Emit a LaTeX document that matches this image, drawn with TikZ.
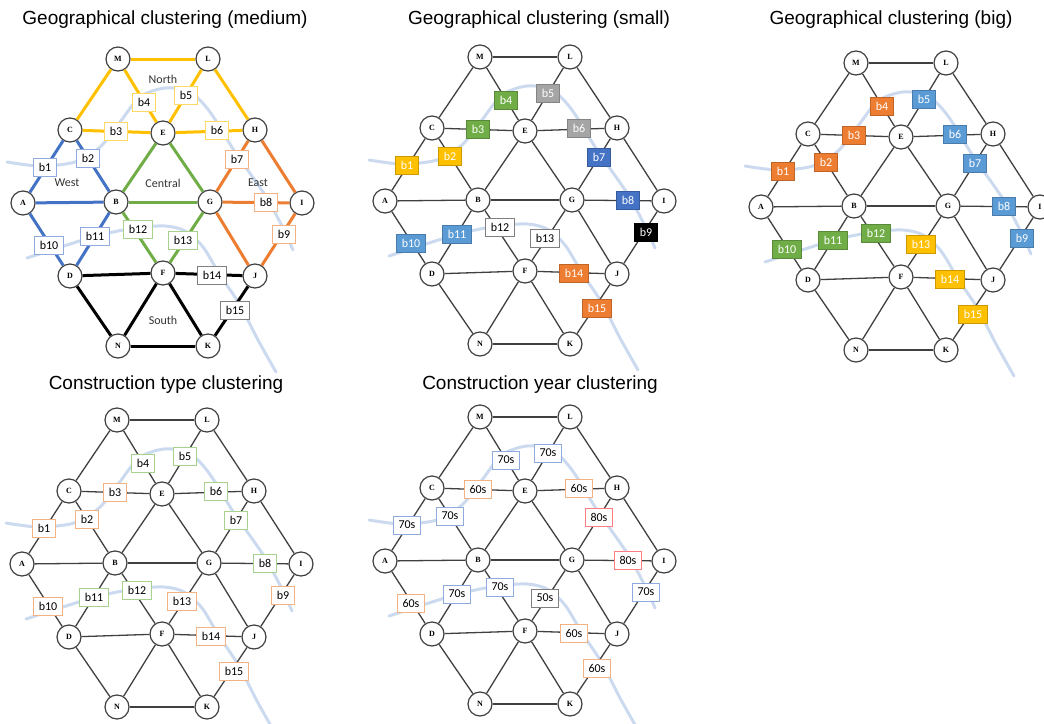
\documentclass[tikz,border=0pt]{standalone}
\usepackage{fontspec}
\setmainfont{Liberation Sans}
\newfontfamily\calfont{Carlito}
\newfontfamily\stnfont{Liberation Serif}

\definecolor{yel}{HTML}{FFC000}
\definecolor{grn}{HTML}{70AD47}
\definecolor{org}{HTML}{ED7D31}
\definecolor{blu}{HTML}{4472C4}
\definecolor{sky}{HTML}{5B9BD5}
\definecolor{gry}{HTML}{A5A5A5}
\definecolor{blueL}{HTML}{8FAADC}
\definecolor{yellowL}{HTML}{FFD966}
\definecolor{orangeL}{HTML}{F4B183}
\definecolor{greenL}{HTML}{A9D18E}
\definecolor{grayD}{HTML}{7F7F7F}
\definecolor{redL}{HTML}{FF7C80}
\definecolor{riverblue}{HTML}{CCDAF0}
\definecolor{linegray}{HTML}{404040}

\tikzset{
  stn/.style={circle, draw=linegray, line width=1.2pt, fill=white, minimum size=24pt, inner sep=0pt,
    font=\stnfont\bfseries\fontsize{8}{8}\selectfont},
  link/.style={draw=linegray, line width=1.3pt},
  eN/.style={link}, eW/.style={link}, eC/.style={link}, eE/.style={link}, eS/.style={link},
  box/.style={fill=white, line width=1pt, minimum height=18pt, inner xsep=5pt, inner ysep=1pt,
    font=\calfont\fontsize{12}{14}\selectfont},
  rim/.style={box, draw=#1},
  tile/.style={box, fill=#1, draw=#1!80!black, text=white},
  river/.style={draw=riverblue, line width=3pt, line cap=round},
  region/.style={font=\calfont\fontsize{12}{14}\selectfont, text=black!80},
  ttl/.style={font=\fontsize{19}{22}\selectfont}
}

% one copy of the network, in pixel units of its own panel
\newcommand{\network}{%
  \draw[river] plot[smooth] coordinates {(7,162) (40,166) (75,162) (100,147) (120,122) (140,97)
    (165,88) (190,92) (210,112) (235,152) (265,195) (283,228) (293,250)};
  \draw[river] plot[smooth] coordinates {(27,258) (67,245) (100,235) (135,228) (165,226) (185,231)
    (203,247) (220,275) (240,305) (258,340) (276,372)};
  % stations
  \node[stn] (M) at (118,59) {M};
  \node[stn] (L) at (208,59) {L};
  \node[stn] (C) at (70,130) {C};
  \node[stn] (E) at (163,133) {E};
  \node[stn] (H) at (255,130) {H};
  \node[stn] (A) at (23,203) {A};
  \node[stn] (B) at (116,202) {B};
  \node[stn] (G) at (210,202) {G};
  \node[stn] (I) at (302,203) {I};
  \node[stn] (D) at (70,276) {D};
  \node[stn] (F) at (163,273) {F};
  \node[stn] (J) at (255,276) {J};
  \node[stn] (N) at (118,346) {N};
  \node[stn] (K) at (208,346) {K};
  % links
  \draw[eN] (M) -- (L);  \draw[eN] (M) -- (C);  \draw[eN] (M) -- (E);
  \draw[eN] (L) -- (E);  \draw[eN] (L) -- (H);  \draw[eN] (C) -- (E);  \draw[eN] (E) -- (H);
  \draw[eW] (C) -- (A);  \draw[eW] (C) -- (B);  \draw[eW] (A) -- (B);
  \draw[eW] (A) -- (D);  \draw[eW] (B) -- (D);
  \draw[eC] (E) -- (B);  \draw[eC] (E) -- (G);  \draw[eC] (B) -- (G);
  \draw[eC] (B) -- (F);  \draw[eC] (G) -- (F);
  \draw[eE] (H) -- (G);  \draw[eE] (H) -- (I);  \draw[eE] (G) -- (I);
  \draw[eE] (G) -- (J);  \draw[eE] (I) -- (J);
  \draw[eS] (D) -- (F);  \draw[eS] (F) -- (J);  \draw[eS] (D) -- (N);  \draw[eS] (F) -- (N);
  \draw[eS] (F) -- (K);  \draw[eS] (J) -- (K);  \draw[eS] (N) -- (K);
  % spots of the bridges
  \coordinate (p1) at (45,167);   \coordinate (p2) at (88,158);   \coordinate (p3) at (116,131);
  \coordinate (p4) at (144,102);  \coordinate (p5) at (186,95);   \coordinate (p6) at (217,130);
  \coordinate (p7) at (237,159);  \coordinate (p8) at (266,202);  \coordinate (p9) at (284,234);
  \coordinate (p10) at (49,245);  \coordinate (p11) at (95,236);  \coordinate (p12) at (138,229);
  \coordinate (p13) at (183,240); \coordinate (p14) at (212,275); \coordinate (p15) at (235,310);
}

\begin{document}
\begin{tikzpicture}[x=1pt, y=-1pt]
\useasboundingbox (0,0) rectangle (1044,723);

\node[ttl] (t1) at (165,20) {Geographical clustering (medium)};
\node[ttl] (t2) at (539,20) {Geographical clustering (small)};
\node[ttl] (t3) at (891,20) {Geographical clustering (big)};
\node[ttl] (t4) at (166,385) {Construction type clustering};
\node[ttl] (t5) at (540,385) {Construction year clustering};

% medium
\begin{scope}[name prefix=geoM-,
  eN/.style={draw=yel, line width=3pt}, eW/.style={draw=blu, line width=3pt},
  eC/.style={draw=grn, line width=3pt}, eE/.style={draw=org, line width=3pt},
  eS/.style={draw=black, line width=3pt}]
\network
\foreach \i/\c in {1/blueL,2/blueL,3/yellowL,4/yellowL,5/yellowL,6/yellowL,7/orangeL,8/orangeL,
  9/orangeL,10/blueL,11/blueL,12/greenL,13/greenL,14/grayD,15/grayD}
  \node[rim=\c] (b\i) at (p\i) {b\i};
\node[region] (north) at (163,79) {North};
\node[region] (west) at (67,183) {West};
\node[region] (central) at (163,183) {Central};
\node[region] (east) at (258,183) {East};
\node[region] (south) at (163,320) {South};
\end{scope}

% small
\begin{scope}[shift={(362,-2)}, name prefix=geoS-]
\network
\foreach \i/\c in {1/yel,2/yel,3/grn,4/grn,5/gry,6/gry,7/blu,8/blu,9/black,10/sky,11/sky,14/org,15/org}
  \node[tile=\c] (b\i) at (p\i) {b\i};
\node[rim=grayD] (b12) at (p12) {b12};
\node[rim=grayD] (b13) at (p13) {b13};
\end{scope}

% big
\begin{scope}[shift={(738,4)}, name prefix=geoB-]
\network
\foreach \i/\c in {1/org,2/org,3/org,4/org,5/sky,6/sky,7/sky,8/sky,9/sky,10/grn,11/grn,12/grn,
  13/yel,14/yel,15/yel}
  \node[tile=\c] (b\i) at (p\i) {b\i};
\end{scope}

% construction type
\begin{scope}[shift={(-1,361)}, name prefix=type-]
\network
\foreach \i/\c in {1/orangeL,2/orangeL,3/orangeL,4/greenL,5/greenL,6/greenL,7/greenL,8/greenL,
  9/orangeL,10/orangeL,11/greenL,12/greenL,13/orangeL,14/orangeL,15/orangeL}
  \node[rim=\c] (b\i) at (p\i) {b\i};
\end{scope}

% construction year
\begin{scope}[shift={(362,358)}, name prefix=year-]
\network
\foreach \i/\c/\t in {1/blueL/70s,2/blueL/70s,3/orangeL/60s,4/blueL/70s,5/blueL/70s,6/orangeL/60s,
  7/redL/80s,8/redL/80s,9/blueL/70s,10/orangeL/60s,11/blueL/70s,12/blueL/70s,13/grayD/50s,
  14/orangeL/60s,15/orangeL/60s}
  \node[rim=\c] (b\i) at (p\i) {\t};
\end{scope}

\end{tikzpicture}
\end{document}
